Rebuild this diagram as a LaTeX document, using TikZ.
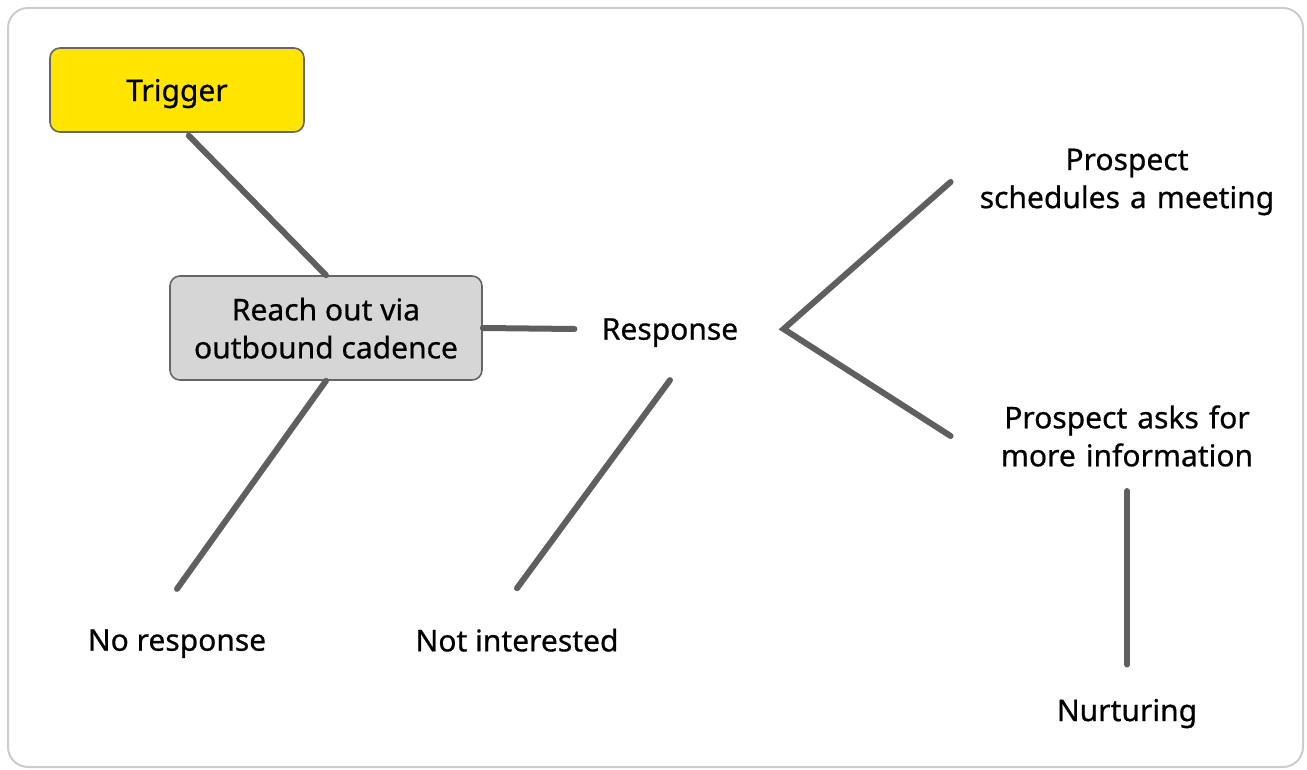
\documentclass[tikz,border=0pt]{standalone}
\usepackage{fontspec}
\setmainfont{Noto Sans}[FakeBold=0.6]
\usepackage{xcolor}
\usetikzlibrary{positioning}
\usetikzlibrary{calc}
\definecolor{linegray}{HTML}{5F5F5F}
\definecolor{boxgray}{HTML}{666666}
\definecolor{framegray}{HTML}{CCCCCC}
\definecolor{triggeryellow}{HTML}{FFE500}
\definecolor{reachgray}{HTML}{D6D6D6}
\tikzset{
    x=0.5pt, y=-0.5pt,
    every node/.style={font=\fontsize{15}{19}\selectfont, align=center},
    link/.style = {draw=linegray, line width=3pt, line cap=round},
    frame/.style = {draw=framegray, line width=1pt, rounded corners=10pt},
    box/.style = {shape=rectangle, rounded corners=5pt, draw=boxgray, line width=0.8pt, text depth=0pt},
    yellow node/.style={box, fill=triggeryellow, minimum width=127pt, minimum height=42pt},
    gray node/.style={box, fill=reachgray, minimum width=156pt, minimum height=52pt},
    text node/.style={inner xsep=13.5pt, inner ysep=20pt, text depth=0pt},
    wide node/.style={inner xsep=12pt, inner ysep=20pt, text width=152pt}
}
\begin{document}
\begin{tikzpicture}
    \useasboundingbox (0,0) rectangle (1307,770);
    \draw[frame] (8,8) rectangle (1303,767);
    % boxes
    \node(trigger)[yellow node] at (177,90) {Trigger};
    \node(reach)[gray node] at (326,328) {Reach out via\\outbound cadence};
    % outcomes
    \node(response)[text node] at (670,329) {Response};
    \node(noresp)[text node] at (177,640) {No response};
    \node(notint)[text node] at (517,640) {Not interested};
    \node(meeting)[wide node] at (1127,182) {Prospect\\schedules a meeting};
    \node(moreinfo)[wide node] at (1127,436) {Prospect asks for\\more information};
    \node(nurture)[text node] at (1127,710) {Nurturing};
    \coordinate (fork) at ([xshift=9pt]response.east);
    \draw[link, shorten <=2pt] ([xshift=4.5pt]trigger.south) -- (reach.north);
    \draw[link] (reach.east) -- (response.west);
    \draw[link] (reach.south) -- (noresp.north);
    \draw[link] (response.south) -- (notint.north);
    \draw[link] (meeting.west) -- (fork) -- (moreinfo.west);
    \draw[link] ([yshift=8pt]moreinfo.south) -- ([yshift=-3pt]nurture.north);
\end{tikzpicture}
\end{document}
